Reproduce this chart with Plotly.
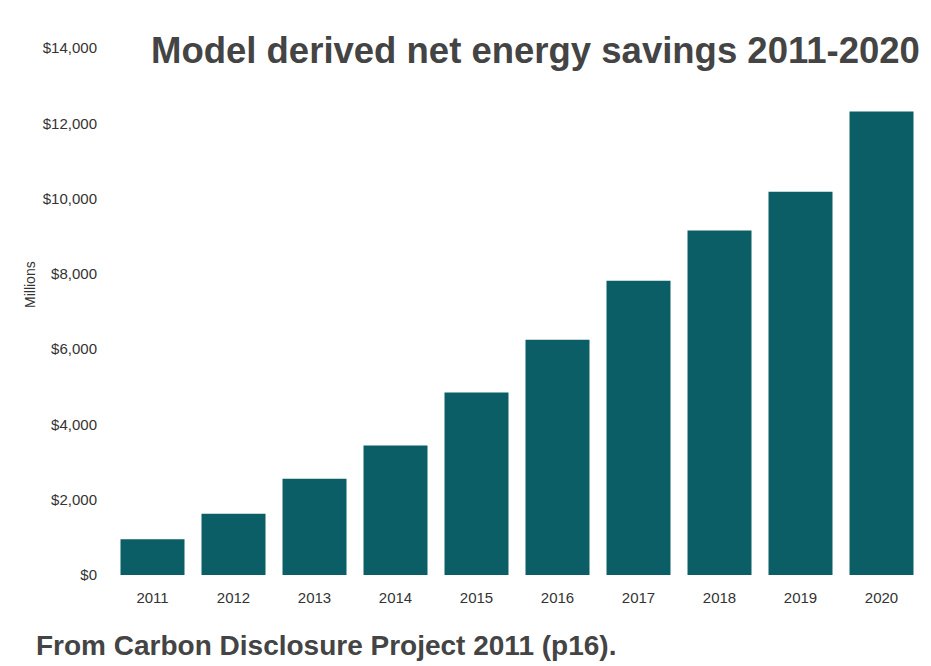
import plotly.graph_objects as go

years = ["2011", "2012", "2013", "2014", "2015", "2016", "2017", "2018", "2019", "2020"]
savings_millions = [950, 1630, 2560, 3440, 4850, 6250, 7820, 9150, 10180, 12310]
y_ticks = [0, 2000, 4000, 6000, 8000, 10000, 12000, 14000]
y_tick_labels = ["$0", "$2,000", "$4,000", "$6,000", "$8,000", "$10,000", "$12,000", "$14,000"]

BAR = "#0b5e65"
TEXT = "#444444"
FONT = "Liberation Sans, Arial, Helvetica, sans-serif"

fig = go.Figure(
    go.Bar(
        x=years,
        y=savings_millions,
        marker=dict(color=BAR, line=dict(width=0)),
        hoverinfo="x+y",
    )
)

fig.update_layout(
    width=931,
    height=666,
    margin=dict(l=112, r=9, t=48, b=91),
    paper_bgcolor="white",
    plot_bgcolor="white",
    bargap=0.21,
    showlegend=False,
    font=dict(family=FONT, color=TEXT, size=15),
    xaxis=dict(
        showgrid=False,
        showline=False,
        zeroline=False,
        ticks="",
        ticklabelstandoff=12,
        tickfont=dict(size=15, color="#333333"),
    ),
    yaxis=dict(
        range=[0, 14000],
        tickvals=y_ticks,
        ticktext=y_tick_labels,
        showgrid=False,
        zeroline=False,
        showline=False,
        ticks="",
        ticklabelstandoff=14,
        tickfont=dict(size=15, color="#333333"),
    ),
    annotations=[
        dict(
            text="Millions",
            xref="paper", yref="paper",
            x=0, y=(575 - 285) / 527,
            xanchor="center", yanchor="middle",
            xshift=-82,
            textangle=-90,
            showarrow=False,
            font=dict(size=14, color="#333333", family=FONT),
        ),
        dict(
            text="<b>Model derived net energy savings 2011-2020</b>",
            xref="paper", yref="paper",
            x=1.0, y=1.0,
            xanchor="right", yanchor="middle",
            yshift=-2,
            showarrow=False,
            font=dict(size=36.5, color=TEXT, family=FONT),
        ),
        dict(
            text="<b>From Carbon Disclosure Project 2011 (p16).</b>",
            xref="paper", yref="paper",
            x=0, y=0,
            xanchor="left", yanchor="middle",
            xshift=-78, yshift=-70,
            showarrow=False,
            font=dict(size=28, color=TEXT, family=FONT),
        ),
    ],
)

fig.write_html("out.html")
